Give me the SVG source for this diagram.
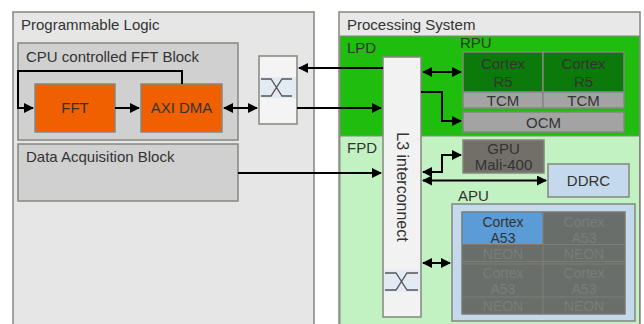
<svg xmlns="http://www.w3.org/2000/svg" width="644" height="324" viewBox="0 0 644 324">
<style>
text{font-family:"Liberation Sans",Arial,sans-serif;font-size:15px;fill:#333}
.c{text-anchor:middle}
.bx{stroke:#85877f;stroke-width:1.5}
.ln{fill:none;stroke:#000;stroke-width:2}
.sw{fill:none;stroke:#555;stroke-width:1.3}
.dim{fill:#797d79}
.s{font-size:14px}
</style>
<defs>
<marker id="a" viewBox="0 0 10 10" refX="9" refY="5" markerWidth="5" markerHeight="5" orient="auto-start-reverse" markerUnits="strokeWidth">
<path d="M0,0 L10,5 L0,10 z" fill="#000"/>
</marker>
</defs>
<rect width="644" height="324" fill="#fff"/>
<g id="pl">
<rect class="bx" x="13" y="12" width="301" height="320" fill="#e6e6e6"/>
<text x="21" y="30">Programmable Logic</text>
</g>
<g id="fftblock">
<rect class="bx" x="18" y="43" width="220" height="97" fill="#d0d0d0"/>
<text x="26" y="62">CPU controlled FFT Block</text>
</g>
<g id="fft">
<rect class="bx" x="35" y="84" width="80" height="48" fill="#f06000"/>
<text class="c" x="75" y="113">FFT</text>
</g>
<g id="axidma">
<rect class="bx" x="141" y="84" width="81" height="48" fill="#f06000"/>
<text class="c" x="181.5" y="113">AXI DMA</text>
</g>
<g id="daq">
<rect class="bx" x="18" y="144" width="220" height="57" fill="#d0d0d0"/>
<text x="26" y="162">Data Acquisition Block</text>
</g>
<g id="plswitch">
<rect class="bx" x="259" y="56" width="38" height="68" fill="#f4f4f4"/>
<rect x="260" y="77" width="36" height="21" fill="#e2eaf4"/>
<path class="sw" d="M261,79 H271 L282,96 H292 M261,96 H271 L282,79 H292"/>
</g>
<g id="ps">
<rect class="bx" x="339" y="12" width="301" height="320" fill="#e8e8e8"/>
<text x="347" y="30">Processing System</text>
</g>
<g id="lpd">
<rect x="340" y="36" width="299.5" height="100" fill="#1ebd0e" stroke="#85877f" stroke-width="1"/>
<text x="347" y="53">LPD</text>
</g>
<g id="fpd">
<rect x="340" y="136" width="299.5" height="195" fill="#c2f2c2" stroke="#85877f" stroke-width="1"/>
<text x="347" y="153">FPD</text>
</g>
<g id="rpu">
<text x="460" y="48">RPU</text>
<rect class="bx" x="463" y="52" width="80" height="40" fill="#0b7a0b"/>
<rect class="bx" x="543" y="52" width="81" height="40" fill="#0b7a0b"/>
<text class="c" x="503" y="69">Cortex</text>
<text class="c" x="503" y="87">R5</text>
<text class="c" x="583.5" y="69">Cortex</text>
<text class="c" x="583.5" y="87">R5</text>
<rect class="bx" x="463" y="92" width="80" height="16" fill="#a3a3a3"/>
<rect class="bx" x="543" y="92" width="81" height="16" fill="#a3a3a3"/>
<text class="c" x="503" y="105.5">TCM</text>
<text class="c" x="583.5" y="105.5">TCM</text>
</g>
<g id="ocm">
<rect class="bx" x="463" y="112" width="161" height="20" fill="#a3a3a3"/>
<text class="c" x="543.5" y="127.5">OCM</text>
</g>
<g id="gpu">
<rect class="bx" x="463" y="140" width="81" height="33" fill="#716f68"/>
<text class="c" x="503.5" y="154">GPU</text>
<text class="c" x="503.5" y="170">Mali-400</text>
</g>
<g id="ddrc">
<rect class="bx" x="548" y="164" width="81" height="33" fill="#c4d9ec"/>
<text class="c" x="588.5" y="186">DDRC</text>
</g>
<g id="apu">
<text x="458" y="201">APU</text>
<rect class="bx" x="452" y="204" width="183" height="117" fill="#c4d9ec"/>
<rect x="462" y="212" width="163" height="102" fill="#6a6e6a" stroke="#7a7a72" stroke-width="1.5"/>
<rect x="462.5" y="212.5" width="80.5" height="31.5" fill="#5b9bd6"/>
<path d="M543,212 V314 M462,244.5 H625 M462,261.5 H625 M462,264 H625 M462,297 H625" stroke="#7d7d74" stroke-width="1.2" fill="none"/>
<text class="c s" x="503" y="227">Cortex</text>
<text class="c s" x="503" y="242.5">A53</text>
<text class="c s dim" x="584" y="227">Cortex</text>
<text class="c s dim" x="584" y="242.5">A53</text>
<text class="c s dim" x="503" y="258.5">NEON</text>
<text class="c s dim" x="584" y="258.5">NEON</text>
<text class="c s dim" x="503" y="278">Cortex</text>
<text class="c s dim" x="584" y="278">Cortex</text>
<text class="c s dim" x="503" y="294">A53</text>
<text class="c s dim" x="584" y="294">A53</text>
<text class="c s dim" x="503" y="310.5">NEON</text>
<text class="c s dim" x="584" y="310.5">NEON</text>
</g>
<g id="l3">
<rect class="bx" x="383" y="57" width="38" height="260" fill="#f2f2f2"/>
<text class="c" style="font-size:16px" transform="translate(396.5,187) rotate(90)">L3 interconnect</text>
<rect x="384" y="270" width="36" height="22" fill="#e2eaf4"/>
<path class="sw" d="M385,273 H396 L407,290 H418 M385,290 H396 L407,273 H418"/>
</g>
<g id="connectors">
<path class="ln" d="M182,84 V71 H18 V108 H33" marker-end="url(#a)"/>
<path class="ln" d="M115,108 H139" marker-end="url(#a)"/>
<path class="ln" d="M224,108 H257" marker-start="url(#a)" marker-end="url(#a)"/>
<path class="ln" d="M383,68 H299" marker-end="url(#a)"/>
<path class="ln" d="M297,108 H381" marker-end="url(#a)"/>
<path class="ln" d="M238,173 H381" marker-end="url(#a)"/>
<path class="ln" d="M423,72 H461" marker-start="url(#a)" marker-end="url(#a)"/>
<path class="ln" d="M421,92 H442 V121 H461" marker-end="url(#a)"/>
<path class="ln" d="M423,172 H442 V155 H461" marker-start="url(#a)" marker-end="url(#a)"/>
<path class="ln" d="M423,180.5 H546" marker-start="url(#a)" marker-end="url(#a)"/>
<path class="ln" d="M423,263 H450" marker-start="url(#a)" marker-end="url(#a)"/>
</g>
</svg>
